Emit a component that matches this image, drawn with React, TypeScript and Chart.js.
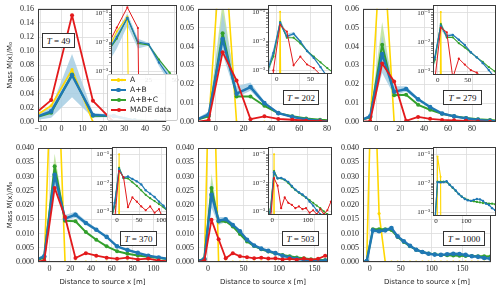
import React, { useEffect, useRef } from "react";
import { Chart, registerables } from "chart.js";

Chart.register(...registerables);

// ---------------- DATA ----------------
// Panel T = 49
const X_49 = [-15, -5, 5, 15, 25, 35, 45, 55];
const A_49 = [0.004, 0.023, 0.074, 0, 0, 0, 0, 0];
const AB_49 = [0.004, 0.015, 0.066, 0.01, 0.0085, 0.002, 0.0006, 0.0002];
const ABC_49 = [0.004, 0.013, 0.067, 0.009, 0.008, 0.0025, 0.0009, 0.0003];
const MADE_49 = [0.006, 0.031, 0.151, 0.03, 0, 0, 0, 0];
const BAND_X_49 = [-15, -5, 5, 15, 25, 35, 45];
const AB_LO_49 = [0.0015, 0.006, 0.035, 0.006, 0.0075, 0.0015, 0.0004];
const AB_HI_49 = [0.007, 0.021, 0.096, 0.013, 0.0095, 0.0028, 0.0009];

// Panel T = 202
const X_202 = [-15, -5, 5, 15, 25, 35, 45, 55, 65, 75, 85];
const A_202 = [0, 0, 0.107, 0, 0, 0, 0, 0, 0, 0, 0];
const AB_202 = [0.0008, 0.004, 0.044, 0.015, 0.0185, 0.01, 0.0047, 0.0027, 0.0013, 0.0006, 0.0002];
const ABC_202 = [0.0008, 0.003, 0.047, 0.0135, 0.0135, 0.0086, 0.0047, 0.003, 0.0019, 0.0012, 0.0008];
const MADE_202 = [0, 0.001, 0.037, 0.022, 0.0015, 0.003, 0.0016, 0.0012, 0.0007, 0.0004, 0.0001];
const BAND_X_202 = [-15, -5, 5, 15, 25, 35, 45, 55];
const AB_LO_202 = [0.0004, 0.003, 0.036, 0.013, 0.0165, 0.009, 0.0042, 0.0024];
const AB_HI_202 = [0.0012, 0.0055, 0.058, 0.019, 0.021, 0.011, 0.0052, 0.003];
const GBAND_X_202 = [-5, 5, 15];
const ABC_LO_202 = [0.002, 0.041, 0.013];
const ABC_HI_202 = [0.004, 0.064, 0.0145];

// Panel T = 279
const X_279 = [-15, -5, 5, 15, 25, 35, 45, 55, 65, 75, 85, 95, 105];
const A_279 = [0, 0, 0.105, 0, 0, 0, 0, 0, 0, 0, 0, 0, 0];
const AB_279 = [0.0005, 0.003, 0.036, 0.016, 0.0175, 0.012, 0.0079, 0.0045, 0.003, 0.0019, 0.0011, 0.0006, 0.0003];
const ABC_279 = [0.0005, 0.0025, 0.041, 0.0142, 0.0144, 0.0091, 0.0065, 0.0044, 0.003, 0.0021, 0.0014, 0.001, 0.0007];
const MADE_279 = [0, 0.0005, 0.031, 0.0215, 0.0006, 0.0027, 0.0017, 0.0011, 0.0009, 0.0006, 0.0003, 0.0001, 0];
const BAND_X_279 = [-15, -5, 5, 15, 25, 35, 45];
const AB_LO_279 = [0.0003, 0.002, 0.026, 0.014, 0.0162, 0.0112, 0.0074];
const AB_HI_279 = [0.0008, 0.004, 0.046, 0.019, 0.019, 0.0128, 0.0084];
const GBAND_X_279 = [-5, 5, 15];
const ABC_LO_279 = [0.0015, 0.031, 0.0135];
const ABC_HI_279 = [0.0035, 0.053, 0.015];

// Panel T = 370
const X_370 = [-15, -5, 5, 15, 25, 35, 45, 55, 65, 75, 85, 95, 105, 115];
const A_370 = [0, 0, 0.1, 0, 0, 0, 0, 0, 0, 0, 0, 0, 0, 0];
const AB_370 = [0.0004, 0.002, 0.0306, 0.0152, 0.0166, 0.0137, 0.0113, 0.0088, 0.0055, 0.0042, 0.0032, 0.0022, 0.0016, 0.001];
const ABC_370 = [0.0004, 0.0015, 0.0336, 0.0145, 0.0143, 0.0105, 0.0078, 0.0055, 0.0038, 0.0029, 0.0023, 0.0018, 0.0014, 0.001];
const MADE_370 = [0, 0.0005, 0.026, 0.0158, 0.0014, 0.0031, 0.0022, 0.0015, 0.0011, 0.0015, 0.0009, 0.0012, 0.0005, 0.0002];
const BAND_X_370 = [-15, -5, 5, 15, 25, 35, 45];
const AB_LO_370 = [0.0002, 0.0015, 0.027, 0.0145, 0.0155, 0.013, 0.0108];
const AB_HI_370 = [0.0006, 0.0028, 0.034, 0.0165, 0.0176, 0.0145, 0.0118];
const GBAND_X_370 = [-5, 5, 15];
const ABC_LO_370 = [0.001, 0.029, 0.014];
const ABC_HI_370 = [0.0025, 0.038, 0.0155];

// Panel T = 503
const X_503 = [-15, -5, 5, 15, 25, 35, 45, 55, 65, 75, 85, 95, 105, 115, 125, 135, 145, 155, 165, 175];
const A_503 = [0, 0, 0.1, 0, 0, 0, 0, 0, 0, 0, 0, 0, 0, 0, 0, 0, 0, 0, 0, 0];
const AB_503 = [0.0003, 0.001, 0.0236, 0.0145, 0.015, 0.013, 0.0108, 0.0078, 0.0058, 0.0047, 0.0039, 0.0031, 0.0022, 0.0016, 0.0011, 0.0008, 0.0006, 0.0005, 0.0004, 0.0003];
const ABC_503 = [0.0003, 0.0012, 0.026, 0.0142, 0.0143, 0.0125, 0.0098, 0.0072, 0.0056, 0.0045, 0.0037, 0.003, 0.0025, 0.002, 0.0016, 0.0013, 0.001, 0.0008, 0.0007, 0.0006];
const MADE_503 = [0, 0.0005, 0.0148, 0.008, 0.0013, 0.0031, 0.002, 0.0017, 0.0013, 0.0015, 0.0012, 0.0013, 0.0009, 0.0011, 0.0008, 0.0012, 0.0008, 0.0011, 0.0022, 0.0014];
const BAND_X_503 = [-15, -5, 5, 15, 25, 35];
const AB_LO_503 = [0.0001, 0.0006, 0.019, 0.013, 0.014, 0.0122];
const AB_HI_503 = [0.0005, 0.0016, 0.028, 0.0158, 0.0158, 0.0138];
const GBAND_X_503 = [-5, 5, 15];
const ABC_LO_503 = [0.0006, 0.022, 0.0135];
const ABC_HI_503 = [0.002, 0.031, 0.015];

// Panel T = 1000
const X_1000 = [-15, -5, 5, 15, 25, 35, 45, 55, 65, 75, 85, 95, 105, 115, 125, 135, 145, 155, 165, 175, 185, 195, 205];
const A_1000 = [0, 0, 0.085, 0.017, 0, 0, 0, 0, 0, 0, 0, 0, 0, 0, 0, 0, 0, 0, 0, 0, 0, 0, 0];
const AB_1000 = [0, 0.0003, 0.0111, 0.0108, 0.0111, 0.0119, 0.009, 0.0073, 0.0057, 0.0043, 0.0035, 0.0029, 0.0026, 0.0025, 0.0027, 0.0029, 0.0028, 0.0025, 0.002, 0.0018, 0.0014, 0.0012, 0.001];
const ABC_1000 = [0, 0.0003, 0.0115, 0.0115, 0.0115, 0.0112, 0.0088, 0.007, 0.0055, 0.0043, 0.0035, 0.003, 0.0027, 0.0025, 0.0024, 0.0023, 0.0022, 0.0021, 0.0021, 0.002, 0.002, 0.0019, 0.0019];
const BAND_X_1000 = [-5, 5, 15, 25, 35, 45];
const AB_LO_1000 = [0.0002, 0.0104, 0.0102, 0.0105, 0.0112, 0.0086];
const AB_HI_1000 = [0.0005, 0.012, 0.0116, 0.0118, 0.0125, 0.0095];

// Tick values
const XT_49 = [-10, 0, 10, 20, 30, 40, 50];
const XT_TOP = [0, 20, 40, 60, 80];
const XT_370 = [0, 20, 40, 60, 80, 100];
const XT_BOT = [0, 50, 100, 150];
const YT_49 = [0, 0.02, 0.04, 0.06, 0.08, 0.1, 0.12, 0.14, 0.16];
const YT_TOP = [0, 0.01, 0.02, 0.03, 0.04, 0.05, 0.06];
const YT_BOT = [0, 0.005, 0.01, 0.015, 0.02, 0.025, 0.03, 0.035, 0.04];
const IXT_49 = [0, 25, 50];
const IXT_TOP = [0, 50];
const IXT_370 = [0, 50, 100];
const IXT_BOT = [0, 100];
const IY_MAJOR = [0.001, 0.01, 0.1];
const IY_LABELS = ["10\u207B\u00B3", "10\u207B\u00B2", "10\u207B\u00B9"];
const IY_MINOR = [0.002, 0.003, 0.004, 0.005, 0.006, 0.007, 0.008, 0.009, 0.02, 0.03, 0.04, 0.05, 0.06, 0.07, 0.08, 0.09];

const SERIES_NAMES = ["A", "A+B", "A+B+C", "MADE data"];

// ---------------- STYLE ----------------
const YELLOW = "#ffd700";
const BLUE = "#1f78b4";
const GREEN = "#33a02c";
const RED = "#e31a1c";
const BAND_BLUE = "rgba(166,206,227,0.85)";
const BAND_GREEN = "rgba(178,223,138,0.75)";
const GRID = "#dcdcdc";
const FRAME = "#3a3a3a";
const TXT = "#262626";
const SERIF = "'Liberation Serif', 'DejaVu Serif', serif";
const SANS = "'DejaVu Sans', sans-serif";

type Box = { l: number; t: number; r: number; b: number };
type Panel = {
  label: string;
  x: number[]; a: number[]; ab: number[]; abc: number[]; made?: number[];
  bandX: number[]; abLo: number[]; abHi: number[];
  gBandX?: number[]; abcLo?: number[]; abcHi?: number[];
  main: Box & { xmin: number; xmax: number; xt: number[]; yt: number[]; ymax: number; dec: number; left: boolean; bottom: boolean };
  inset: Box & { xmin: number; xmax: number; xt: number[] };
  tbox: { l: number; t: number; w: number };
};

const PANELS: Panel[] = [
  {
    label: "49", x: X_49, a: A_49, ab: AB_49, abc: ABC_49, made: MADE_49,
    bandX: BAND_X_49, abLo: AB_LO_49, abHi: AB_HI_49,
    main: { l: 38, t: 8, r: 166, b: 122, xmin: -11.3, xmax: 50, xt: XT_49, yt: YT_49, ymax: 0.16, dec: 2, left: true, bottom: false },
    inset: { l: 111, t: 5, r: 177, b: 75, xmin: -10.5, xmax: 52, xt: IXT_49 },
    tbox: { l: 42, t: 33, w: 33 },
  },
  {
    label: "202", x: X_202, a: A_202, ab: AB_202, abc: ABC_202, made: MADE_202,
    bandX: BAND_X_202, abLo: AB_LO_202, abHi: AB_HI_202, gBandX: GBAND_X_202, abcLo: ABC_LO_202, abcHi: ABC_HI_202,
    main: { l: 198, t: 8, r: 328, b: 122, xmin: -12.7, xmax: 80.7, xt: XT_TOP, yt: YT_TOP, ymax: 0.06, dec: 2, left: false, bottom: false },
    inset: { l: 268, t: 5, r: 332, b: 74, xmin: -13, xmax: 82, xt: IXT_TOP },
    tbox: { l: 283, t: 90, w: 36 },
  },
  {
    label: "279", x: X_279, a: A_279, ab: AB_279, abc: ABC_279, made: MADE_279,
    bandX: BAND_X_279, abLo: AB_LO_279, abHi: AB_HI_279, gBandX: GBAND_X_279, abcLo: ABC_LO_279, abcHi: ABC_HI_279,
    main: { l: 363, t: 8, r: 496, b: 122, xmin: -11, xmax: 100, xt: XT_TOP, yt: YT_TOP, ymax: 0.06, dec: 2, left: false, bottom: false },
    inset: { l: 433, t: 5, r: 496, b: 75, xmin: -8, xmax: 97, xt: IXT_TOP },
    tbox: { l: 443, t: 90, w: 39 },
  },
  {
    label: "370", x: X_370, a: A_370, ab: AB_370, abc: ABC_370, made: MADE_370,
    bandX: BAND_X_370, abLo: AB_LO_370, abHi: AB_HI_370, gBandX: GBAND_X_370, abcLo: ABC_LO_370, abcHi: ABC_HI_370,
    main: { l: 38, t: 148, r: 167, b: 262, xmin: -11, xmax: 113, xt: XT_370, yt: YT_BOT, ymax: 0.04, dec: 3, left: true, bottom: true },
    inset: { l: 112, t: 147, r: 167, b: 215, xmin: -11, xmax: 113, xt: IXT_370 },
    tbox: { l: 120, t: 231, w: 37 },
  },
  {
    label: "503", x: X_503, a: A_503, ab: AB_503, abc: ABC_503, made: MADE_503,
    bandX: BAND_X_503, abLo: AB_LO_503, abHi: AB_HI_503, gBandX: GBAND_X_503, abcLo: ABC_LO_503, abcHi: ABC_HI_503,
    main: { l: 198, t: 148, r: 328, b: 262, xmin: -14, xmax: 169, xt: XT_BOT, yt: YT_BOT, ymax: 0.04, dec: 3, left: false, bottom: true },
    inset: { l: 268, t: 147, r: 332, b: 215, xmin: -12, xmax: 168, xt: IXT_BOT },
    tbox: { l: 282, t: 231, w: 37 },
  },
  {
    label: "1000", x: X_1000, a: A_1000, ab: AB_1000, abc: ABC_1000,
    bandX: BAND_X_1000, abLo: AB_LO_1000, abHi: AB_HI_1000,
    main: { l: 363, t: 148, r: 491, b: 262, xmin: -11, xmax: 196, xt: XT_BOT, yt: YT_BOT, ymax: 0.04, dec: 3, left: false, bottom: true },
    inset: { l: 433, t: 147, r: 496, b: 216, xmin: -10, xmax: 198, xt: IXT_BOT },
    tbox: { l: 443, t: 231, w: 42 },
  },
];

// ---------------- HELPERS ----------------
const pts = (xs: number[], ys: number[], log: boolean) =>
  xs.map((x, i) => ({ x, y: log && ys[i] <= 0 ? 1e-30 : ys[i] }));

const framePlugin = {
  id: "frame",
  beforeDraw(chart: any, _a: any, opts: any) {
    const a = chart.chartArea;
    if (opts && opts.bg) {
      const ctx = chart.ctx;
      ctx.save();
      ctx.fillStyle = opts.bg;
      ctx.fillRect(a.left, a.top, a.right - a.left, a.bottom - a.top);
      ctx.restore();
    }
  },
  afterDatasetsDraw(chart: any) {
    const a = chart.chartArea;
    const ctx = chart.ctx;
    ctx.save();
    ctx.strokeStyle = FRAME;
    ctx.lineWidth = 1;
    const l = Math.round(a.left) + 0.5;
    const t = Math.round(a.top) + 0.5;
    const r = Math.round(a.right) - 0.5;
    const b = Math.round(a.bottom) - 0.5;
    ctx.strokeRect(l, t, r - l, b - t);
    ctx.restore();
  },
};

function line(data: any, color: string, w: number, r: number, order: number, label: string) {
  return {
    label, data, borderColor: color, backgroundColor: color, borderWidth: w,
    pointRadius: r, pointBackgroundColor: color, pointBorderWidth: 0,
    fill: false, order, borderJoinStyle: "round",
  };
}

function datasets(p: Panel, log: boolean) {
  const ds: any[] = [];
  const k = log ? 0.5 : 1;
  if (p.gBandX && p.abcLo && p.abcHi) {
    ds.push({ data: pts(p.gBandX, p.abcHi, log), borderWidth: 0, pointRadius: 0, fill: "+1", backgroundColor: BAND_GREEN, order: 31 });
    ds.push({ data: pts(p.gBandX, p.abcLo, log), borderWidth: 0, pointRadius: 0, fill: false, order: 32 });
  }
  ds.push({ data: pts(p.bandX, p.abHi, log), borderWidth: 0, pointRadius: 0, fill: "+1", backgroundColor: BAND_BLUE, order: 21 });
  ds.push({ data: pts(p.bandX, p.abLo, log), borderWidth: 0, pointRadius: 0, fill: false, order: 22 });
  ds.push(line(pts(p.x, p.a, log), YELLOW, log ? 1.1 : 1.6, log ? 1 : 1.6, 10, SERIES_NAMES[0]));
  ds.push(line(pts(p.x, p.abc, log), GREEN, log ? 1.1 : 2, log ? 1.1 : 2, 4, SERIES_NAMES[2]));
  ds.push(line(pts(p.x, p.ab, log), BLUE, log ? 1.2 : 2.4, log ? 1.2 : 2.3, 3, SERIES_NAMES[1]));
  if (p.made) ds.push(line(pts(p.x, p.made, log), RED, log ? 1 : 1.8 * k + (log ? 0 : 0), log ? 1.1 : 2, 1, SERIES_NAMES[3]));
  return ds;
}

const fmtX = (v: number) => (v < 0 ? "\u2212" + Math.abs(v) : String(v));

function mainConfig(p: Panel): any {
  const m = p.main;
  const wy = m.left ? 38 : 30;
  const hx = m.bottom ? 26 : 14;
  return {
    type: "line",
    data: { datasets: datasets(p, false) },
    plugins: [framePlugin],
    options: {
      responsive: false, animation: false, events: [],
      layout: { padding: { left: m.l - wy, top: m.t, right: 500 - m.r, bottom: 290 - m.b - hx } },
      plugins: { legend: { display: false }, tooltip: { enabled: false }, frame: {} },
      scales: {
        x: {
          type: "linear", min: m.xmin, max: m.xmax, bounds: "data",
          afterBuildTicks: (s: any) => { s.ticks = m.xt.map((v) => ({ value: v })); },
          afterFit: (s: any) => { s.height = hx; },
          ticks: { font: { family: SERIF, size: 8 }, color: TXT, padding: 2, autoSkip: false, maxRotation: 0, callback: (v: any) => fmtX(Number(v)) },
          grid: { color: GRID, lineWidth: 0.8, drawTicks: false },
          border: { display: false },
          title: { display: m.bottom, text: "Distance to source x [m]", font: { family: SANS, size: 7 }, color: TXT, padding: { top: 0, bottom: 2 } },
        },
        y: {
          type: "linear", min: 0, max: m.ymax, bounds: "data",
          afterBuildTicks: (s: any) => { s.ticks = m.yt.map((v) => ({ value: v })); },
          afterFit: (s: any) => { s.width = wy; },
          ticks: { font: { family: SERIF, size: 8 }, color: TXT, padding: 4, autoSkip: false, callback: (v: any) => Number(v).toFixed(m.dec) },
          grid: { color: GRID, lineWidth: 0.8, drawTicks: false },
          border: { display: false },
          title: { display: m.left, text: "Mass M(x)/M\u2080", font: { family: SANS, size: 7 }, color: TXT, padding: { top: 6, bottom: 0 } },
        },
      },
    },
  };
}

function insetConfig(p: Panel): any {
  const q = p.inset;
  const wy = 22;
  const hx = 10;
  return {
    type: "line",
    data: { datasets: datasets(p, true) },
    plugins: [framePlugin],
    options: {
      responsive: false, animation: false, events: [],
      layout: { padding: { left: q.l - wy, top: q.t, right: 500 - q.r, bottom: 290 - q.b - hx } },
      plugins: { legend: { display: false }, tooltip: { enabled: false }, frame: { bg: "#ffffff" } },
      scales: {
        x: {
          type: "linear", min: q.xmin, max: q.xmax, bounds: "data",
          afterBuildTicks: (s: any) => { s.ticks = q.xt.map((v) => ({ value: v })); },
          afterFit: (s: any) => { s.height = hx; },
          ticks: { font: { family: SERIF, size: 7 }, color: TXT, padding: 1, autoSkip: false, maxRotation: 0, callback: (v: any) => fmtX(Number(v)) },
          grid: { color: GRID, lineWidth: 0.8, drawTicks: false },
          border: { display: false },
        },
        y: {
          type: "logarithmic", min: 0.00075, max: 0.18, bounds: "data",
          afterBuildTicks: (s: any) => {
            s.ticks = [...IY_MAJOR, ...IY_MINOR].sort((a, b) => a - b).map((v) => ({ value: v }));
          },
          afterFit: (s: any) => { s.width = wy; },
          ticks: {
            font: { family: SERIF, size: 7 }, color: TXT, padding: 1, autoSkip: false,
            callback: (v: any) => {
              const i = IY_MAJOR.indexOf(Number(v));
              return i >= 0 ? IY_LABELS[i] : "";
            },
          },
          grid: {
            color: (c: any) => (c.tick && IY_MAJOR.indexOf(c.tick.value) >= 0 ? GRID : "rgba(0,0,0,0)"),
            lineWidth: 0.8, drawTicks: true, tickLength: 2, tickColor: "#444", tickWidth: 0.6,
          },
          border: { display: false },
        },
      },
    },
  };
}

const LEGEND_ITEMS = [
  { name: SERIES_NAMES[0], color: YELLOW, w: 1.6, r: 1.6 },
  { name: SERIES_NAMES[1], color: BLUE, w: 2.4, r: 2.2 },
  { name: SERIES_NAMES[2], color: GREEN, w: 2, r: 2 },
  { name: SERIES_NAMES[3], color: RED, w: 1.8, r: 2 },
];

export default function App() {
  const mainRefs = useRef<(HTMLCanvasElement | null)[]>([]);
  const insetRefs = useRef<(HTMLCanvasElement | null)[]>([]);

  useEffect(() => {
    const charts: Chart[] = [];
    PANELS.forEach((p, i) => {
      const c = mainRefs.current[i];
      if (c) charts.push(new Chart(c, mainConfig(p)));
    });
    PANELS.forEach((p, i) => {
      const c = insetRefs.current[i];
      if (c) charts.push(new Chart(c, insetConfig(p)));
    });
    return () => charts.forEach((c) => c.destroy());
  }, []);

  const canvasStyle: React.CSSProperties = { position: "absolute", left: 0, top: 0 };

  return (
    <div style={{ position: "absolute", left: 0, top: 0, width: 500, height: 290, background: "#fff", overflow: "hidden" }}>
      {PANELS.map((p, i) => (
        <canvas key={"m" + i} ref={(el) => { mainRefs.current[i] = el; }} width={500} height={290} style={canvasStyle} />
      ))}
      {PANELS.map((p, i) => (
        <canvas key={"i" + i} ref={(el) => { insetRefs.current[i] = el; }} width={500} height={290} style={canvasStyle} />
      ))}
      {PANELS.map((p, i) => (
        <div
          key={"t" + i}
          style={{
            position: "absolute", left: p.tbox.l, top: p.tbox.t, width: p.tbox.w, height: 15,
            boxSizing: "border-box", border: "1px solid #333", background: "#fff",
            display: "flex", alignItems: "center", justifyContent: "center",
            fontFamily: SERIF, fontSize: 9, color: "#111", whiteSpace: "nowrap",
          }}
        >
          <i>T</i>&nbsp;=&nbsp;{p.label}
        </div>
      ))}
      <div
        style={{
          position: "absolute", left: 107, top: 74, width: 71, height: 47, boxSizing: "border-box",
          border: "1px solid #cccccc", borderRadius: 2, background: "rgba(255,255,255,0.88)",
        }}
      >
        {LEGEND_ITEMS.map((it, i) => (
          <div key={it.name} style={{ position: "absolute", left: 0, top: 5 + i * 10, width: 70, height: 0 }}>
            <div style={{ position: "absolute", left: 3, top: -it.w / 2, width: 15, height: it.w, background: it.color }} />
            <div style={{ position: "absolute", left: 10.5 - it.r, top: -it.r, width: it.r * 2, height: it.r * 2, borderRadius: "50%", background: it.color }} />
            <div style={{ position: "absolute", left: 22, top: -5, height: 10, lineHeight: "10px", fontFamily: SANS, fontSize: 7.5, color: TXT, whiteSpace: "nowrap" }}>
              {it.name}
            </div>
          </div>
        ))}
      </div>
    </div>
  );
}
